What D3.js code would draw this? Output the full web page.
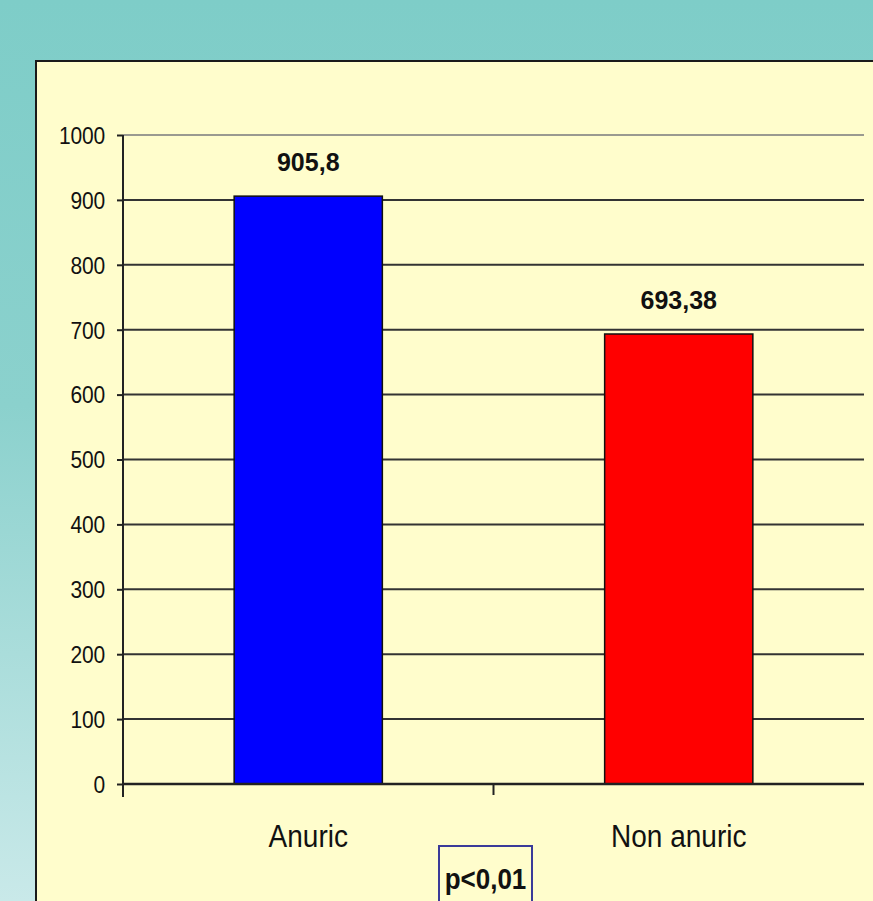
<!DOCTYPE html>
<html>
<head>
<meta charset="utf-8">
<script src="https://cdn.jsdelivr.net/npm/d3@7"></script>
<style>
  html, body { margin: 0; padding: 0; overflow: hidden; }
  svg { display: block; }
  text { font-family: "Liberation Sans", Arial, sans-serif; fill: #111; }
</style>
</head>
<body>
<script>
// Chart data
const categories = ["Anuric", "Non anuric"];
const values = [905.8, 693.38];
const valueLabels = ["905,8", "693,38"];
const barColors = ["#0000ff", "#ff0000"];
const yTicks = [0, 100, 200, 300, 400, 500, 600, 700, 800, 900, 1000];
const note = "p<0,01";

const W = 873, H = 901;
const STRETCH = 1.1; // text is drawn slightly taller than wide
const svg = d3.select("body").append("svg").attr("width", W).attr("height", H);

// Slide-style background
const defs = svg.append("defs");
const bg = defs.append("linearGradient").attr("id", "bg")
  .attr("x1", "0").attr("y1", "0").attr("x2", "0").attr("y2", "1");
bg.append("stop").attr("offset", "0%").attr("stop-color", "#7ecdc8");
bg.append("stop").attr("offset", "45%").attr("stop-color", "#8bd1cd");
bg.append("stop").attr("offset", "100%").attr("stop-color", "#c9e9e9");
svg.append("rect").attr("width", W).attr("height", H).attr("fill", "url(#bg)");

// Chart panel
svg.append("rect").attr("x", 36).attr("y", 61).attr("width", W).attr("height", H)
  .attr("fill", "#fffdcc").attr("stroke", "#1a1a1a").attr("stroke-width", 2);

// Plot area
const plot = { left: 123, right: 864, top: 135, bottom: 784 };

const y = d3.scaleLinear().domain([0, 1000]).range([plot.bottom, plot.top]);
const x = d3.scaleBand().domain(categories).range([plot.left, plot.right])
  .paddingInner(0.6).paddingOuter(0.3);
const xCat = d3.scaleBand().domain(categories).range([plot.left, plot.right]);

// Gridlines
svg.append("g").selectAll("line").data(yTicks).join("line")
  .attr("x1", plot.left).attr("x2", plot.right)
  .attr("y1", d => y(d)).attr("y2", d => y(d))
  .attr("stroke", d => d === 1000 ? "#9a9a90" : "#333")
  .attr("stroke-width", 2);

// Bars
svg.append("g").selectAll("rect").data(values).join("rect")
  .attr("x", (d, i) => x(categories[i]))
  .attr("y", d => y(d))
  .attr("width", x.bandwidth())
  .attr("height", d => y(0) - y(d))
  .attr("fill", (d, i) => barColors[i])
  .attr("stroke", "#111").attr("stroke-width", 1.5);

// Y axis
const yAxis = svg.append("g").attr("transform", `translate(${plot.left},0)`)
  .call(d3.axisLeft(y).tickValues(yTicks).tickSize(6).tickPadding(0).tickFormat(d3.format("d")));
yAxis.select(".domain").remove();
yAxis.selectAll(".tick line").attr("stroke", "#222").attr("stroke-width", 2);
yAxis.selectAll(".tick text")
  .attr("x", 0).attr("dy", "0.36em")
  .attr("transform", `translate(-18,0) scale(1,${STRETCH})`)
  .attr("font-size", 21).attr("fill", "#111")
  .attr("letter-spacing", -0.2);
svg.append("line").attr("x1", plot.left).attr("x2", plot.left)
  .attr("y1", plot.top).attr("y2", plot.bottom + 13)
  .attr("stroke", "#222").attr("stroke-width", 2);

// X axis baseline and category dividers
svg.append("line").attr("x1", plot.left).attr("x2", plot.right)
  .attr("y1", y(0)).attr("y2", y(0)).attr("stroke", "#222").attr("stroke-width", 2.5);
svg.append("g").selectAll("line").data(categories.slice(1)).join("line")
  .attr("x1", d => xCat(d)).attr("x2", d => xCat(d))
  .attr("y1", y(0)).attr("y2", y(0) + 11)
  .attr("stroke", "#222").attr("stroke-width", 2);

// Category labels
svg.append("g").selectAll("text").data(categories).join("text")
  .attr("transform", d => `translate(${xCat(d) + xCat.bandwidth() / 2},847) scale(1,${STRETCH})`)
  .attr("text-anchor", "middle")
  .attr("font-size", 28)
  .text(d => d);

// Value labels
svg.append("g").selectAll("text").data(values).join("text")
  .attr("x", (d, i) => x(categories[i]) + x.bandwidth() / 2)
  .attr("y", d => y(d) - 25)
  .attr("text-anchor", "middle")
  .attr("font-size", 25)
  .attr("font-weight", "bold")
  .text((d, i) => valueLabels[i]);

// Significance note
svg.append("rect").attr("x", 439).attr("y", 846).attr("width", 93).attr("height", 80)
  .attr("fill", "#fffdcc").attr("stroke", "#3a3a99").attr("stroke-width", 2);
svg.append("text")
  .attr("transform", `translate(485.5,889) scale(1,${STRETCH})`)
  .attr("text-anchor", "middle").attr("font-size", 26).attr("font-weight", "bold")
  .text(note);
</script>
</body>
</html>
